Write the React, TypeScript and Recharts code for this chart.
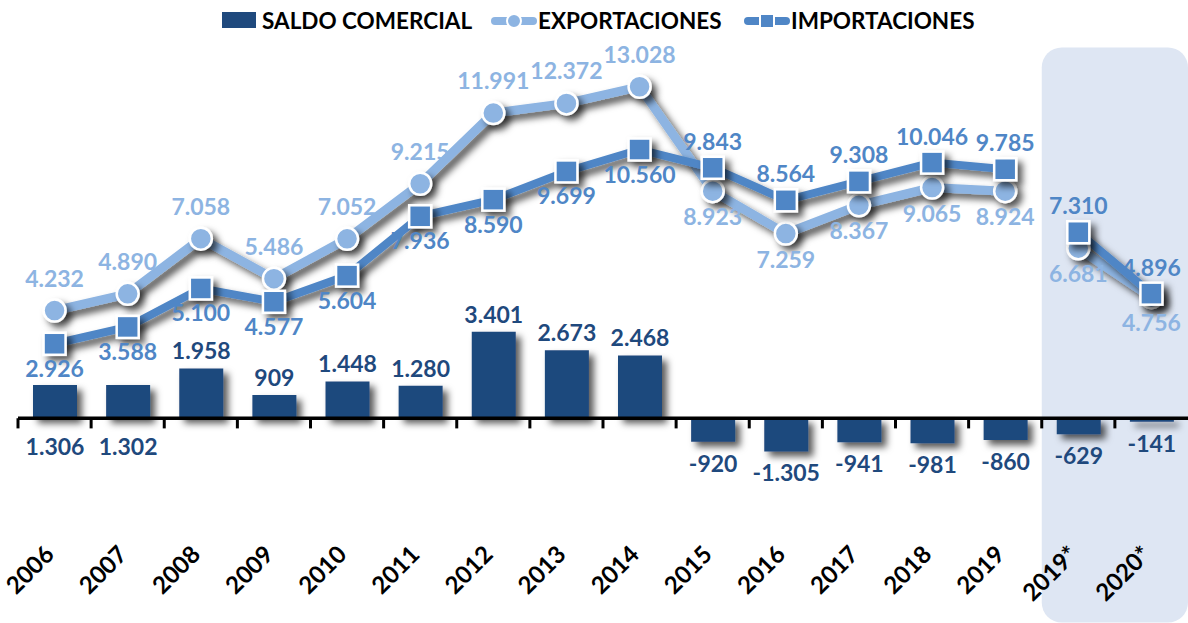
import React from 'react';
import {
  ComposedChart,
  Bar,
  Line,
  XAxis,
  YAxis,
  ReferenceLine,
  ReferenceArea,
  LabelList,
} from 'recharts';

// ---------------- DATA ----------------
const years = [
  '2006', '2007', '2008', '2009', '2010', '2011', '2012', '2013',
  '2014', '2015', '2016', '2017', '2018', '2019', '2019*', '2020*',
];
const saldoComercial = [1306, 1302, 1958, 909, 1448, 1280, 3401, 2673, 2468, -920, -1305, -941, -981, -860, -629, -141];
const exportaciones = [4232, 4890, 7058, 5486, 7052, 9215, 11991, 12372, 13028, 8923, 7259, 8367, 9065, 8924, 6681, 4756];
const importaciones = [2926, 3588, 5100, 4577, 5604, 7936, 8590, 9699, 10560, 9843, 8564, 9308, 10046, 9785, 7310, 4896];
const seriesNames = ['SALDO COMERCIAL', 'EXPORTACIONES', 'IMPORTACIONES'];
const yDomain: [number, number] = [-4000, 14000];

// ---------------- STYLE ----------------
const W = 1188;
const H = 623;
const BAR = '#1F497D';
const EXP = '#8DB4E2';
const IMP = '#4F86C6';
const SHADE = '#DEE6F3';
const FONT = 'Lato, "Open Sans", sans-serif';

const isProj = (y: string) => y.endsWith('*');

const data = years.map((year, i) => {
  const p = isProj(year);
  return {
    year,
    idx: i,
    saldo: saldoComercial[i],
    expHist: p ? null : exportaciones[i],
    expProj: p ? exportaciones[i] : null,
    impHist: p ? null : importaciones[i],
    impProj: p ? importaciones[i] : null,
  };
});

const projIdx = years.map((y, i) => (isProj(y) ? i : -1)).filter((i) => i >= 0);
const shadeFrom = Math.min(...projIdx) - 0.5;
const shadeTo = Math.max(...projIdx) + 0.5;
const boundaries = years.map((_, i) => i - 0.5);

const fmt = (v: number) =>
  (v < 0 ? '-' : '') + String(Math.abs(v)).replace(/\B(?=(\d{3})+(?!\d))/g, '.');

const getBox = (props: any) => {
  const vb = props.viewBox && typeof props.viewBox.x === 'number' ? props.viewBox : props;
  return { x: vb.x ?? 0, y: vb.y ?? 0, width: vb.width ?? 0, height: vb.height ?? 0 };
};

const lineLabel = (series: 'exp' | 'imp') => (props: any) => {
  const { value, index } = props;
  if (value == null) return null;
  const b = getBox(props);
  const cx = b.x + b.width / 2;
  const cy = b.y + b.height / 2;
  const other = series === 'exp' ? importaciones[index] : exportaciones[index];
  const above = value > other;
  const dy = series === 'exp' ? (above ? -24 : 34) : above ? -18 : 33;
  return (
    <text
      x={cx}
      y={cy + dy}
      textAnchor="middle"
      fill={series === 'exp' ? EXP : IMP}
      fontSize={23}
      fontWeight={700}
      fontFamily={FONT}
    >
      {fmt(value)}
    </text>
  );
};

const barLabel = (props: any) => {
  const { value, index } = props;
  if (value == null) return null;
  const b = getBox(props);
  const cx = b.x + b.width / 2;
  const top = Math.min(b.y, b.y + b.height);
  const bottom = Math.max(b.y, b.y + b.height);
  let y: number;
  if (value < 0) y = bottom + 30;
  else if (importaciones[index] - value < 2500) y = bottom + 37;
  else y = top - 9;
  return (
    <text x={cx} y={y} textAnchor="middle" fill={BAR} fontSize={23} fontWeight={700} fontFamily={FONT}>
      {fmt(value)}
    </text>
  );
};

const ExpDot = (p: any) => {
  if (p.value == null || p.cy == null) return <g key={p.key} />;
  return <circle key={p.key} cx={p.cx} cy={p.cy} r={11} fill={EXP} stroke="#fff" strokeWidth={2.5} />;
};
const ImpDot = (p: any) => {
  if (p.value == null || p.cy == null) return <g key={p.key} />;
  return (
    <rect key={p.key} x={p.cx - 11} y={p.cy - 11} width={22} height={22} fill={IMP} stroke="#fff" strokeWidth={2.5} />
  );
};

const YearTick = (props: any) => {
  const { x, y, payload } = props;
  return (
    <g transform={`translate(${x + 1},${y + 36}) rotate(-45)`}>
      <text x={0} y={0} textAnchor="end" fill="#000" fontSize={24} fontWeight={700} fontFamily={FONT}>
        {payload.value}
      </text>
    </g>
  );
};

const ShadeShape = (p: any) => (
  <rect x={p.x} y={p.y} width={p.width} height={p.height} rx={20} ry={20} fill={SHADE} />
);

const legendText: React.CSSProperties = {
  position: 'absolute',
  top: 10,
  fontFamily: FONT,
  fontWeight: 700,
  fontSize: 22.5,
  lineHeight: 1,
  color: '#000',
  whiteSpace: 'nowrap',
};

export default function App() {
  return (
    <div style={{ position: 'absolute', left: 0, top: 0, width: W, height: H, background: '#fff' }}>
      <style>{`
        .recharts-bar-rectangles { filter: url(#dshadow); }
        .recharts-line-curve { filter: url(#dshadow); }
        .recharts-line-dots { filter: url(#dshadow); }
      `}</style>
      <svg width={0} height={0} style={{ position: 'absolute' }}>
        <defs>
          <filter id="dshadow" filterUnits="userSpaceOnUse" x={-50} y={-50} width={1300} height={750}>
            <feDropShadow dx={5} dy={5} stdDeviation={3.5} floodColor="#000" floodOpacity={0.65} />
          </filter>
        </defs>
      </svg>
      <ComposedChart
        width={W}
        height={H}
        data={data}
        margin={{ top: 62, right: 0, bottom: 43, left: 18 }}
        barCategoryGap={0}
      >
        <XAxis
          dataKey="year"
          height={60}
          axisLine={false}
          tickLine={false}
          tickSize={0}
          tickMargin={0}
          interval={0}
          tick={<YearTick />}
        />
        <XAxis xAxisId="n" type="number" dataKey="idx" domain={[-0.5, years.length - 0.5]} hide />
        <YAxis hide domain={yDomain} />
        <ReferenceArea
          xAxisId="n"
          x1={shadeFrom}
          x2={shadeTo}
          y1={14570}
          y2={-8030}
          ifOverflow="visible"
          shape={ShadeShape}
          zIndex={-100}
        />
        <Bar dataKey="saldo" fill={BAR} barSize={44} isAnimationActive={false} name={seriesNames[0]}>
          <LabelList dataKey="saldo" content={barLabel} />
        </Bar>
        <ReferenceLine y={0} stroke="#000" strokeWidth={3.5} />
        {boundaries.map((b) => (
          <ReferenceLine
            key={b}
            xAxisId="n"
            segment={[{ x: b, y: 0 }, { x: b, y: -400 }]}
            stroke="#000"
            strokeWidth={3}
          />
        ))}
        <Line
          dataKey="expHist"
          stroke={EXP}
          strokeWidth={9}
          dot={ExpDot}
          activeDot={false}
          isAnimationActive={false}
          name={seriesNames[1]}
        >
          <LabelList dataKey="expHist" content={lineLabel('exp')} />
        </Line>
        <Line
          dataKey="expProj"
          stroke={EXP}
          strokeWidth={9}
          dot={ExpDot}
          activeDot={false}
          isAnimationActive={false}
          legendType="none"
        >
          <LabelList dataKey="expProj" content={lineLabel('exp')} />
        </Line>
        <Line
          dataKey="impHist"
          stroke={IMP}
          strokeWidth={8}
          dot={ImpDot}
          activeDot={false}
          isAnimationActive={false}
          name={seriesNames[2]}
        >
          <LabelList dataKey="impHist" content={lineLabel('imp')} />
        </Line>
        <Line
          dataKey="impProj"
          stroke={IMP}
          strokeWidth={8}
          dot={ImpDot}
          activeDot={false}
          isAnimationActive={false}
          legendType="none"
        >
          <LabelList dataKey="impProj" content={lineLabel('imp')} />
        </Line>
      </ComposedChart>

      {/* Legend */}
      <div style={{ position: 'absolute', left: 222, top: 12, width: 34, height: 16, background: BAR }} />
      <div style={{ ...legendText, left: 262 }}>{seriesNames[0]}</div>
      <svg style={{ position: 'absolute', left: 490, top: 11 }} width={48} height={20}>
        <line x1={5} y1={10} x2={43} y2={10} stroke={EXP} strokeWidth={8} strokeLinecap="round" />
        <circle cx={24} cy={10} r={7} fill={EXP} stroke="#fff" strokeWidth={2} />
      </svg>
      <div style={{ ...legendText, left: 538 }}>{seriesNames[1]}</div>
      <svg style={{ position: 'absolute', left: 743, top: 11 }} width={48} height={20}>
        <line x1={5} y1={10} x2={43} y2={10} stroke={IMP} strokeWidth={8} strokeLinecap="round" />
        <rect x={17} y={3} width={14} height={14} fill={IMP} stroke="#fff" strokeWidth={2} />
      </svg>
      <div style={{ ...legendText, left: 791 }}>{seriesNames[2]}</div>
    </div>
  );
}
